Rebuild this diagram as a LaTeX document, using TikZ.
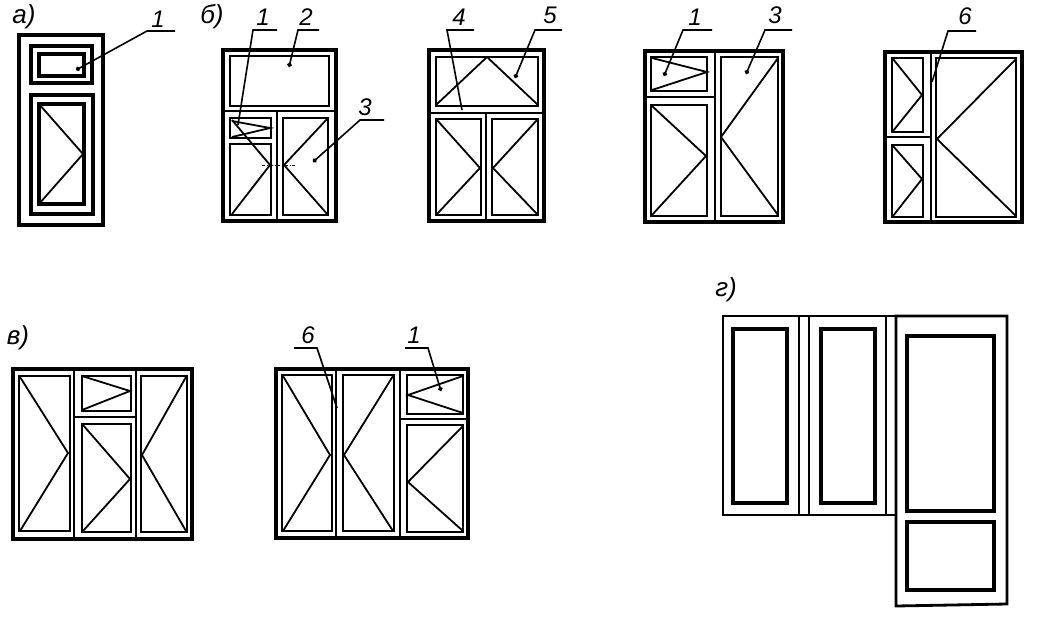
\documentclass[tikz,border=0pt]{standalone}
\usepackage{fontspec}
\setmainfont{Liberation Sans}
\usepackage{tikz}
\usetikzlibrary{arrows.meta, positioning}

\begin{document}
\begin{tikzpicture}[x=1pt, y=-1pt, line join=miter,
        outerframe/.style={draw, line width=3.5pt},
        sash/.style={draw, line width=2.6pt},
        heavysash/.style={draw, line width=3.3pt},
        bar/.style={draw, line width=2.8pt},
        swing/.style={draw, line width=1.8pt},
        leader/.style={draw, line width=1.6pt},
        dotleader/.style={leader, -{Circle[length=4.5pt]}},
        lbl/.style={font=\itshape\fontsize{24}{24}\selectfont, inner sep=0pt},
        letter/.style={font=\itshape\fontsize{26}{26}\selectfont, inner sep=0pt}]
    \useasboundingbox (0,0) rectangle (1039,619);
    % frames
    \foreach \xa/\ya/\xb/\yb in {19/35/103/225, 223/50/336/221, 429/50/544/221, 645/51/783/222,
            885/52/1022/222, 13/369/192/539, 276/369/468/538}
        \draw[outerframe] (\xa,\ya) rectangle (\xb,\yb);
    % sashes
    \foreach \xa/\ya/\xb/\yb in {230/56/329/106, 230/118/271/138, 230/144/271/215, 283/118/328/215,
            436/57/538/106, 436/119/481/215, 492/119/538/215,
            651/57/707/91, 651/105/707/216, 721/57/778/216,
            892/58/923/132, 892/145/923/217, 936/58/1016/217,
            19/376/70/531, 82/376/131/411, 82/424/131/532, 141/376/187/532,
            282/375/332/531, 343/375/394/531, 407/375/463/414, 407/425/463/532}
        \draw[sash] (\xa,\ya) rectangle (\xb,\yb);
    \foreach \xa/\ya/\xb/\yb in {31/46/92/83, 39/54/84/76, 31/95/93/214, 39/104/84/204,
            733/329/787/503, 821/329/875/503, 907/336/994/511, 907/522/994/590}
        \draw[heavysash] (\xa,\ya) rectangle (\xb,\yb);
    % mullions and transoms
    \foreach \xa/\ya/\xb/\yb in {223/111/336/111, 277/111/277/221, 429/113/544/113, 486/113/486/221,
            715/51/715/222, 645/97/715/97, 931/52/931/222, 885/137/931/137,
            74/369/74/539, 136/369/136/539, 74/417/136/417,
            336/369/336/538, 400/369/400/538, 400/419/468/419}
        \draw[bar] (\xa,\ya) -- (\xb,\yb);
    % opening marks
    \foreach \xa/\ya/\xm/\ym/\xb/\yb in {39/104/83/154/39/204,
            232/120/270/165/232/214, 232/121/270/128/232/137, 328/118/284/165/328/215,
            436/105/487/57/538/105, 437/120/480/168/437/214, 537/120/493/168/537/214,
            652/58/707/72/652/90, 652/106/706/156/652/215, 778/58/721/137/778/215,
            893/59/922/95/893/131, 893/146/922/179/893/216, 1016/59/937/139/1016/216,
            20/377/68/453/20/531, 82/376/130/391/82/410, 83/425/130/479/83/531, 186/377/142/455/186/531,
            283/376/330/455/283/531, 393/376/344/455/393/531, 463/376/408/395/463/413, 463/426/408/482/463/531}
        \draw[swing] (\xa,\ya) -- (\xm,\ym) -- (\xb,\yb);
    \draw[line width=0.6pt, dash dot] (262,165) -- (296,165);
    % balcony block
    \draw[bar] (899,316) -- (723,316) -- (723,515) -- (896,515);
    \draw[bar] (896,316) -- (1007,316) -- (1007,604) -- (896,606) -- cycle;
    \foreach \xa in {799, 809, 886}
        \draw[bar] (\xa,316) -- (\xa,515);
    % leaders
    \foreach \nm/\txt/\lx/\ly/\sa/\sb/\sy/\tx/\ty/\st in {
            a/1/158/19/175/147/31/76/70/dotleader,
            b/1/263/17/277/253/30/238/125/leader,
            c/2/306/17/319/298/30/289/67/dotleader,
            d/3/365/107/384/360/120/313/162/dotleader,
            e/4/459/17/474/447/30/462/110/leader,
            f/5/550/15/562/535/30/515/78/dotleader,
            g/1/695/17/712/683/30/664/76/dotleader,
            h/3/775/15/792/765/30/746/74/dotleader,
            i/6/965/16/976/948/31/932/82/leader,
            j/6/308/335/294/317/348/337/408/leader,
            k/1/414/335/405/428/348/441/391/dotleader}{
        \node[lbl] (lab\nm) at (\lx,\ly) {\txt};
        \coordinate (sa\nm) at (\sa,\sy);
        \coordinate (sb\nm) at (\sb,\sy);
        \coordinate (tip\nm) at (\tx,\ty);
        \draw[\st] (sa\nm) -- (sb\nm) -- (tip\nm);
    }
    % panel letters
    \node[letter] (pa) at (24,17) {а)};
    \node[letter] (pb) at (212,17) {б)};
    \node[letter] (pc) at (18,338) {в)};
    \node[letter] (pd) at (726,290) {г)};
\end{tikzpicture}
\end{document}
